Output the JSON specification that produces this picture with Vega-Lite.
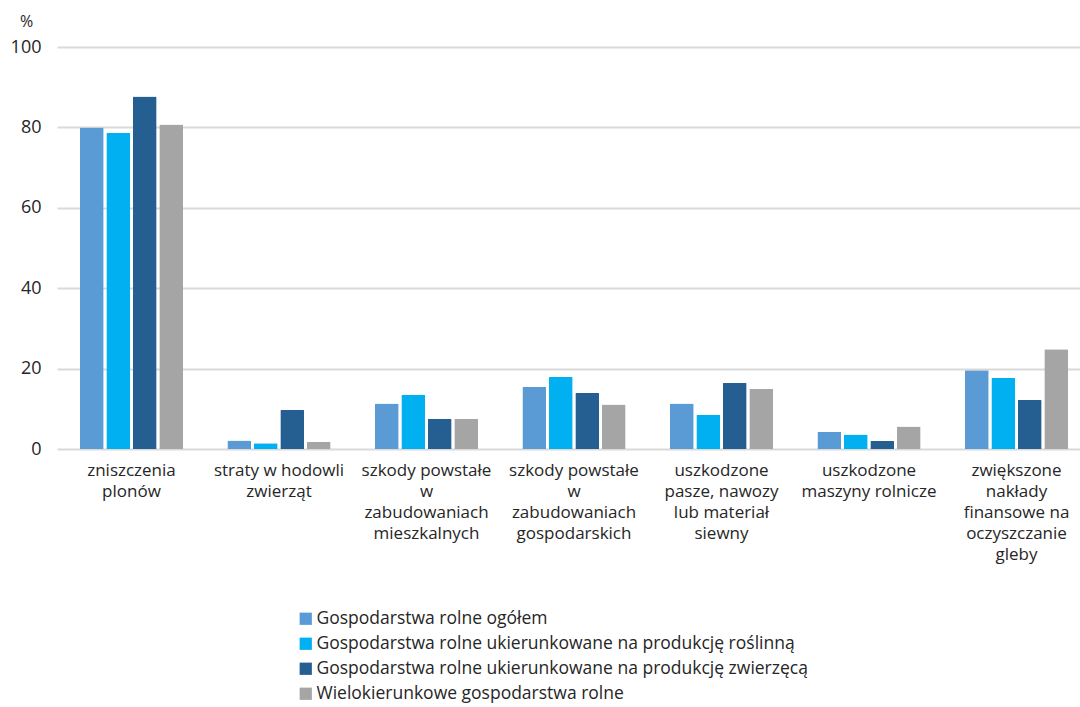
{
  "$schema": "https://vega.github.io/schema/vega-lite/v6.json",
  "width": 1034,
  "height": 402,
  "autosize": "none",
  "padding": {"left": 57, "top": 47, "right": 0, "bottom": 258},
  "background": "white",
  "config": {
    "font": "Open Sans",
    "view": {"stroke": null}
  },
  "data": {
    "values": [
      {"cat": "zniszczenia|plonów", "series": "Gospodarstwa rolne ogółem", "v": 80.0},
      {"cat": "zniszczenia|plonów", "series": "Gospodarstwa rolne ukierunkowane na produkcję roślinną", "v": 78.7},
      {"cat": "zniszczenia|plonów", "series": "Gospodarstwa rolne ukierunkowane na produkcję zwierzęcą", "v": 87.7},
      {"cat": "zniszczenia|plonów", "series": "Wielokierunkowe gospodarstwa rolne", "v": 80.7},
      {"cat": "straty w hodowli|zwierząt", "series": "Gospodarstwa rolne ogółem", "v": 2.1},
      {"cat": "straty w hodowli|zwierząt", "series": "Gospodarstwa rolne ukierunkowane na produkcję roślinną", "v": 1.4},
      {"cat": "straty w hodowli|zwierząt", "series": "Gospodarstwa rolne ukierunkowane na produkcję zwierzęcą", "v": 9.7},
      {"cat": "straty w hodowli|zwierząt", "series": "Wielokierunkowe gospodarstwa rolne", "v": 1.8},
      {"cat": "szkody powstałe|w|zabudowaniach|mieszkalnych", "series": "Gospodarstwa rolne ogółem", "v": 11.3},
      {"cat": "szkody powstałe|w|zabudowaniach|mieszkalnych", "series": "Gospodarstwa rolne ukierunkowane na produkcję roślinną", "v": 13.5},
      {"cat": "szkody powstałe|w|zabudowaniach|mieszkalnych", "series": "Gospodarstwa rolne ukierunkowane na produkcję zwierzęcą", "v": 7.5},
      {"cat": "szkody powstałe|w|zabudowaniach|mieszkalnych", "series": "Wielokierunkowe gospodarstwa rolne", "v": 7.5},
      {"cat": "szkody powstałe|w|zabudowaniach|gospodarskich", "series": "Gospodarstwa rolne ogółem", "v": 15.4},
      {"cat": "szkody powstałe|w|zabudowaniach|gospodarskich", "series": "Gospodarstwa rolne ukierunkowane na produkcję roślinną", "v": 17.9},
      {"cat": "szkody powstałe|w|zabudowaniach|gospodarskich", "series": "Gospodarstwa rolne ukierunkowane na produkcję zwierzęcą", "v": 13.9},
      {"cat": "szkody powstałe|w|zabudowaniach|gospodarskich", "series": "Wielokierunkowe gospodarstwa rolne", "v": 11.1},
      {"cat": "uszkodzone|pasze, nawozy|lub materiał|siewny", "series": "Gospodarstwa rolne ogółem", "v": 11.3},
      {"cat": "uszkodzone|pasze, nawozy|lub materiał|siewny", "series": "Gospodarstwa rolne ukierunkowane na produkcję roślinną", "v": 8.5},
      {"cat": "uszkodzone|pasze, nawozy|lub materiał|siewny", "series": "Gospodarstwa rolne ukierunkowane na produkcję zwierzęcą", "v": 16.4},
      {"cat": "uszkodzone|pasze, nawozy|lub materiał|siewny", "series": "Wielokierunkowe gospodarstwa rolne", "v": 14.9},
      {"cat": "uszkodzone|maszyny rolnicze", "series": "Gospodarstwa rolne ogółem", "v": 4.3},
      {"cat": "uszkodzone|maszyny rolnicze", "series": "Gospodarstwa rolne ukierunkowane na produkcję roślinną", "v": 3.6},
      {"cat": "uszkodzone|maszyny rolnicze", "series": "Gospodarstwa rolne ukierunkowane na produkcję zwierzęcą", "v": 2.0},
      {"cat": "uszkodzone|maszyny rolnicze", "series": "Wielokierunkowe gospodarstwa rolne", "v": 5.6},
      {"cat": "zwiększone|nakłady|finansowe na|oczyszczanie|gleby", "series": "Gospodarstwa rolne ogółem", "v": 19.6},
      {"cat": "zwiększone|nakłady|finansowe na|oczyszczanie|gleby", "series": "Gospodarstwa rolne ukierunkowane na produkcję roślinną", "v": 17.7},
      {"cat": "zwiększone|nakłady|finansowe na|oczyszczanie|gleby", "series": "Gospodarstwa rolne ukierunkowane na produkcję zwierzęcą", "v": 12.2},
      {"cat": "zwiększone|nakłady|finansowe na|oczyszczanie|gleby", "series": "Wielokierunkowe gospodarstwa rolne", "v": 24.8}
    ]
  },
  "mark": {"type": "bar", "cornerRadiusTopLeft": 1, "cornerRadiusTopRight": 1},
  "encoding": {
    "x": {
      "field": "cat",
      "type": "nominal",
      "sort": null,
      "scale": {"paddingInner": 0.3, "paddingOuter": 0.155},
      "axis": {
        "title": null,
        "domain": false,
        "ticks": false,
        "labelAngle": 0,
        "labelExpr": "split(datum.label, '|')",
        "labelFontSize": 17,
        "labelLineHeight": 21,
        "labelColor": "#262626",
        "labelPadding": 13,
        "labelBaseline": "top"
      }
    },
    "xOffset": {
      "field": "series",
      "sort": null,
      "scale": {"paddingInner": 0.1}
    },
    "y": {
      "field": "v",
      "type": "quantitative",
      "scale": {"domain": [0, 100]},
      "axis": {
        "values": [0, 20, 40, 60, 80, 100],
        "title": "%",
        "titleAngle": 0,
        "titleX": -31,
        "titleY": -26,
        "titleAlign": "center",
        "titleBaseline": "middle",
        "titleFontSize": 16,
        "titleFontWeight": "normal",
        "titleColor": "#262626",
        "domain": false,
        "ticks": false,
        "labelFontSize": 18,
        "labelColor": "#262626",
        "labelPadding": 16,
        "gridColor": "#d9d9d9",
        "gridWidth": 2
      }
    },
    "color": {
      "field": "series",
      "type": "nominal",
      "sort": null,
      "scale": {
        "domain": [
          "Gospodarstwa rolne ogółem",
          "Gospodarstwa rolne ukierunkowane na produkcję roślinną",
          "Gospodarstwa rolne ukierunkowane na produkcję zwierzęcą",
          "Wielokierunkowe gospodarstwa rolne"
        ],
        "range": ["#5b9bd5", "#00b0f0", "#255e91", "#a5a5a5"]
      },
      "legend": {
        "title": null,
        "orient": "none",
        "legendX": 240,
        "legendY": 563,
        "direction": "vertical",
        "symbolType": "square",
        "symbolSize": 150,
        "symbolStrokeWidth": 0,
        "labelFontSize": 17.5,
        "labelColor": "#262626",
        "labelOffset": 2,
        "labelLimit": 700,
        "rowPadding": 6
      }
    }
  }
}
